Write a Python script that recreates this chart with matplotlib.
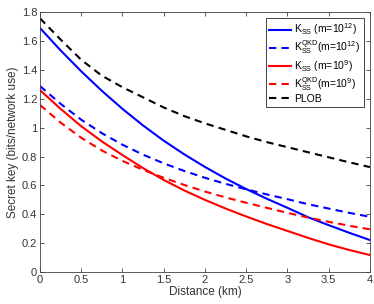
import matplotlib
matplotlib.use("Agg")
import matplotlib.pyplot as plt
from matplotlib.ticker import FormatStrFormatter

# distance (km) and secret key rates
distance = [0, 0.25, 0.5, 0.75, 1, 1.25, 1.5, 1.75, 2, 2.25, 2.5, 2.75, 3, 3.25, 3.5, 3.75, 4]
kss_m12 = [1.69, 1.535, 1.39, 1.255, 1.13, 1.015, 0.91, 0.815, 0.728, 0.648, 0.575, 0.508, 0.445, 0.38, 0.325, 0.272, 0.222]
kqkd_m12 = [1.288, 1.165, 1.055, 0.962, 0.882, 0.813, 0.753, 0.70, 0.653, 0.611, 0.573, 0.538, 0.505, 0.47, 0.44, 0.41, 0.383]
kss_m9 = [1.26, 1.13, 1.01, 0.905, 0.81, 0.72, 0.638, 0.565, 0.50, 0.44, 0.385, 0.333, 0.285, 0.237, 0.192, 0.153, 0.118]
kqkd_m9 = [1.157, 1.035, 0.93, 0.842, 0.77, 0.708, 0.653, 0.603, 0.558, 0.517, 0.48, 0.445, 0.41, 0.378, 0.348, 0.321, 0.296]
plob = [1.757, 1.61, 1.47, 1.36, 1.28, 1.21, 1.14, 1.08, 1.03, 0.985, 0.94, 0.90, 0.865, 0.83, 0.795, 0.76, 0.727]

labels = [r'K$_{\rm SS}$ (m=10$^{12}$)',
          r'K$_{\rm SS}^{\rm QKD}$(m=10$^{12}$)',
          r'K$_{\rm SS}$ (m=10$^{9}$)',
          r'K$_{\rm SS}^{\rm QKD}$(m=10$^{9}$)',
          'PLOB']

plt.rcParams['font.family'] = ['Liberation Sans', 'DejaVu Sans']
plt.rcParams['mathtext.fontset'] = 'custom'
plt.rcParams['mathtext.rm'] = 'Liberation Sans'
plt.rcParams['mathtext.it'] = 'Liberation Sans:italic'
plt.rcParams['mathtext.bf'] = 'Liberation Sans:bold'

fig = plt.figure(figsize=(3.74, 3.04), dpi=100)
ax = fig.add_axes([0.107, 0.105, 0.882, 0.855])

ax.plot(distance, kss_m12, color='#0000ff', lw=1.5, label=labels[0])
ax.plot(distance, kqkd_m12, color='#0000ff', lw=1.5, ls=(0, (3.5, 2.5)), label=labels[1])
ax.plot(distance, kss_m9, color='#ff0000', lw=1.5, label=labels[2])
ax.plot(distance, kqkd_m9, color='#ff0000', lw=1.5, ls=(0, (3.5, 2.5)), label=labels[3])
ax.plot(distance, plob, color='black', lw=1.5, ls=(0, (3.5, 2.5)), label=labels[4])

ax.set_xlim(0, 4)
ax.set_ylim(0, 1.8)
ax.set_xticks([0, 0.5, 1, 1.5, 2, 2.5, 3, 3.5, 4])
ax.set_yticks([0, 0.2, 0.4, 0.6, 0.8, 1.0, 1.2, 1.4, 1.6, 1.8])
ax.xaxis.set_major_formatter(FormatStrFormatter('%g'))
ax.yaxis.set_major_formatter(FormatStrFormatter('%g'))
ax.tick_params(direction='in', top=True, right=True, labelsize=8, length=3,
               width=0.6, color='#404040', labelcolor='#333333', pad=2)
for s in ax.spines.values():
    s.set_linewidth(0.6)
    s.set_color('#404040')

ax.set_xlabel('Distance (km)', fontsize=8.5, color='#333333', labelpad=1)
ax.set_ylabel('Secret key (bits/network use)', fontsize=8.5, color='#333333', labelpad=2)

leg = ax.legend(loc='upper right', fontsize=7.5, handlelength=2.1, handletextpad=0.3,
                borderaxespad=0.6, labelspacing=0.12, fancybox=False, framealpha=1,
                edgecolor='#262626', borderpad=0.3)
leg.get_frame().set_linewidth(0.6)

fig.savefig('out.png', dpi=100)
